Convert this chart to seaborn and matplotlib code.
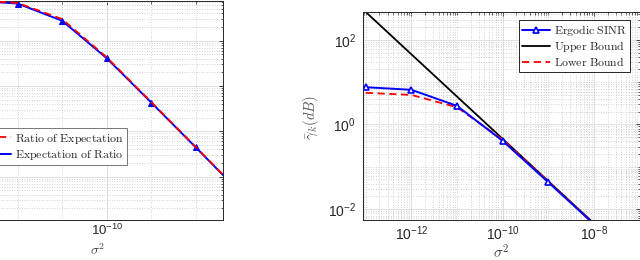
import numpy as np
import pandas as pd
import matplotlib
matplotlib.use("Agg")
import matplotlib.pyplot as plt
import matplotlib.ticker as mticker
import seaborn as sns

# data
sigma2 = [1e-13, 1e-12, 1e-11, 1e-10, 1e-9, 1e-8, 1e-7]
ergodic = [7.6, 6.6, 2.75, 0.41, 0.043, 0.0044, 0.00044]
ratio_of_exp = [7.8, 6.8, 3.0, 0.43, 0.044, 0.0045, 0.00045]
upper_bound = [457, 45.7, 4.57, 0.457, 0.0457, 0.00457, 0.000457]
lower_bound = [5.6, 5.0, 2.55, 0.44, 0.045, 0.0045, 0.00045]

left_xticks = [1e-13, 1e-10, 1e-7]
left_xminor = [1e-12, 1e-11, 1e-9, 1e-8]
left_yticks = [1e-4, 1e-3, 1e-2, 1e-1, 1e0]
right_xticks = [1e-12, 1e-10, 1e-8]
right_yticks = [1e-2, 1e0, 1e2]

sns.set_style("white")
plt.rcParams["font.family"] = ["Liberation Sans", "DejaVu Sans"]
plt.rcParams["mathtext.fontset"] = "cm"

W, H = 640, 260
fig = plt.figure(figsize=(6.4, 2.6), dpi=100)

# left panel is cropped by the figure edge, as in the reference
axL = fig.add_axes([-27 / W, 40 / H, 250 / W, 219 / H])
axR = fig.add_axes([363 / W, 40 / H, 276.5 / W, 208 / H])

for ax in (axL, axR):
    ax.set_xscale("log")
    ax.set_yscale("log")

# left panel
sns.lineplot(x=sigma2, y=ergodic, ax=axL, color="#0000ff", lw=1.4,
             marker="^", markersize=5, markeredgecolor="#0000ff",
             label=r"$\mathrm{Expectation\ of\ Ratio}$", zorder=2)
sns.lineplot(x=sigma2, y=ratio_of_exp, ax=axL, color="#ff0000", lw=1.3,
             linestyle=(0, (4, 2.5)), label=r"$\mathrm{Ratio\ of\ Expectation}$",
             zorder=3)
axL.set_xlim(1e-13, 10 ** -7.39)
axL.set_ylim(1.1e-4, 7.5)
axL.xaxis.set_major_locator(mticker.FixedLocator(left_xticks))
axL.xaxis.set_minor_locator(mticker.FixedLocator(left_xminor))
axL.yaxis.set_major_locator(mticker.FixedLocator(left_yticks))
axL.yaxis.set_minor_locator(mticker.LogLocator(base=10, subs=np.arange(2, 10), numticks=20))

# right panel
sns.lineplot(x=sigma2, y=ergodic, ax=axR, color="#0000ff", lw=1.4,
             marker="^", markersize=5, markerfacecolor="white",
             markeredgecolor="#0000ff", markeredgewidth=1.2,
             label=r"$\mathrm{Ergodic\ SINR}$", zorder=4)
sns.lineplot(x=sigma2, y=upper_bound, ax=axR, color="black", lw=1.3,
             label=r"$\mathrm{Upper\ Bound}$", zorder=2)
sns.lineplot(x=sigma2, y=lower_bound, ax=axR, color="#ff0000", lw=1.3,
             linestyle=(0, (4, 2.5)), label=r"$\mathrm{Lower\ Bound}$", zorder=3)
axR.set_xlim(10 ** -13.06, 1e-7)
axR.set_ylim(10 ** -2.26, 10 ** 2.66)
axR.xaxis.set_major_locator(mticker.FixedLocator(right_xticks))
axR.xaxis.set_minor_locator(mticker.LogLocator(base=10, subs=np.arange(1, 10), numticks=30))
axR.yaxis.set_major_locator(mticker.FixedLocator(right_yticks))
axR.yaxis.set_minor_locator(mticker.LogLocator(base=10, subs=np.arange(1, 10), numticks=30))

sci = mticker.LogFormatterSciNotation()


def inner_only(v, pos):
    # labels that would fall outside the cropped figure are left blank
    if v <= 1e-13 or v >= 1e-7:
        return ""
    return sci(v, pos)


for ax in (axL, axR):
    ax.xaxis.set_major_formatter(mticker.LogFormatterSciNotation())
    ax.yaxis.set_major_formatter(mticker.LogFormatterSciNotation())
    ax.xaxis.set_minor_formatter(mticker.NullFormatter())
    ax.yaxis.set_minor_formatter(mticker.NullFormatter())
    ax.grid(True, which="major", color="#dedede", lw=0.7, ls="-")
    ax.grid(True, which="minor", color="#c4c4c4", lw=0.6, ls=(0, (1, 2)))
    ax.set_axisbelow(True)
    ax.tick_params(which="both", direction="in", top=True, right=True,
                   colors="#262626", labelsize=10)
    ax.tick_params(which="major", length=3, width=0.6)
    ax.tick_params(which="minor", length=1.8, width=0.5)
    ax.tick_params(axis="x", pad=3.5)
    ax.tick_params(axis="y", pad=5)
    for sp in ax.spines.values():
        sp.set_color("#262626")
        sp.set_linewidth(0.7)

axL.set_xlabel(r"$\sigma^2$", fontsize=10, color="#404040")
axR.set_xlabel(r"$\sigma^2$", fontsize=11, color="#404040")

sci.set_axis(axL.xaxis)
axL.xaxis.set_major_formatter(mticker.FuncFormatter(inner_only))
axL.tick_params(axis="y", labelleft=False)
axL.tick_params(axis="x", pad=2, labelsize=9.5)

axL.xaxis.set_label_coords(0.5, -0.1)
axR.xaxis.set_label_coords(0.5, -0.115)
axR.set_ylabel(r"$\bar{\gamma}_k(dB)$", fontsize=10.5, color="#595959")
axR.yaxis.set_label_coords(-42 / 276.5, 0.495)

# legends
h, l = axL.get_legend_handles_labels()
legL = axL.legend([h[1], h[0]], [l[1], l[0]], loc="upper right",
                  bbox_to_anchor=(127 / W, 1 - 128 / H), bbox_transform=fig.transFigure,
                  borderaxespad=0, fontsize=8.5, frameon=True, fancybox=False,
                  handlelength=2.6, handletextpad=0.3, labelspacing=0.2,
                  borderpad=0.3, framealpha=1)
legL.get_frame().set_edgecolor("#777777")
legL.get_frame().set_linewidth(0.7)

legR = axR.legend(loc="upper right", bbox_to_anchor=(630 / W, 1 - 20 / H),
                  bbox_transform=fig.transFigure, borderaxespad=0, fontsize=8.5,
                  frameon=True, fancybox=False, handlelength=2.4, handletextpad=0.3,
                  labelspacing=0.12, borderpad=0.25, framealpha=1)
legR.get_frame().set_edgecolor("#262626")
legR.get_frame().set_linewidth(0.7)

fig.savefig("out.png", dpi=100)
